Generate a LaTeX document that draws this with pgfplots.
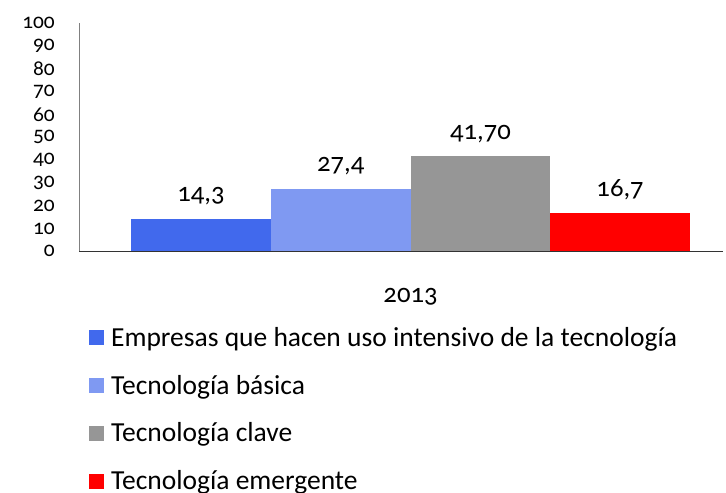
\documentclass[border=0pt]{standalone}
\usepackage{fontspec}
\setmainfont[Numbers=OldStyle]{Carlito}
\usepackage{pgfplots}
\pgfplotsset{compat=1.18}

\definecolor{serA}{RGB}{65,105,237}
\definecolor{serB}{RGB}{127,153,242}
\definecolor{serC}{RGB}{150,150,150}
\definecolor{serD}{RGB}{255,0,0}

\begin{document}
\begin{tikzpicture}
% 1px = 0.75pt; axis origin sits at pixel (79,251) of the reference
\path[use as bounding box] (-59.25pt,-180.75pt) rectangle (484.5pt,188.25pt);
\begin{axis}[
    scale only axis,
    width=482.25pt,
    height=171pt,
    ybar=0pt,
    bar width=139.5,
    xmin=-331, xmax=312,
    ymin=0, ymax=100,
    ytick={0,10,...,100},
    xtick={0},
    xticklabels={2013},
    axis lines=left,
    x axis line style={black!80, -},
    y axis line style={black!50, -},
    major tick length=0pt,
    /pgf/number format/assume math mode=true,
    every tick label/.append style={font=\fontsize{20}{24}\selectfont},
    yticklabel style={anchor=east, inner sep=0pt, xshift=-18pt,
        font=\fontsize{16}{18}\selectfont},
    xticklabel style={anchor=base, inner sep=0pt, yshift=-38.25pt},
    nodes near coords style={anchor=base, inner sep=0pt, yshift=12.75pt,
        font=\fontsize{20}{24}\selectfont, text=black},
    legend style={at={(0.0156,-0.331)}, anchor=north west, draw=none,
        fill=none, inner sep=0pt, row sep=20pt, column sep=5pt,
        font=\fontsize{20.6}{24}\selectfont,
        nodes={inner sep=0pt, anchor=west}},
    legend cell align=left,
    legend image code/.code={
        \fill[#1, draw=none] (0pt,-5.6pt) rectangle (11.25pt,5.6pt);},
]
\addplot[fill=serA, draw=none, nodes near coords={14{,}3}] coordinates {(0,14.3)};
\addlegendentry{Empresas que hacen uso intensivo de la tecnología}
\addplot[fill=serB, draw=none, nodes near coords={27{,}4}] coordinates {(0,27.4)};
\addlegendentry{Tecnología básica}
\addplot[fill=serC, draw=none, nodes near coords={41{,}70}] coordinates {(0,41.7)};
\addlegendentry{Tecnología clave}
\addplot[fill=serD, draw=none, nodes near coords={16{,}7}] coordinates {(0,16.7)};
\addlegendentry{Tecnología emergente}
\end{axis}
\end{tikzpicture}
\end{document}
